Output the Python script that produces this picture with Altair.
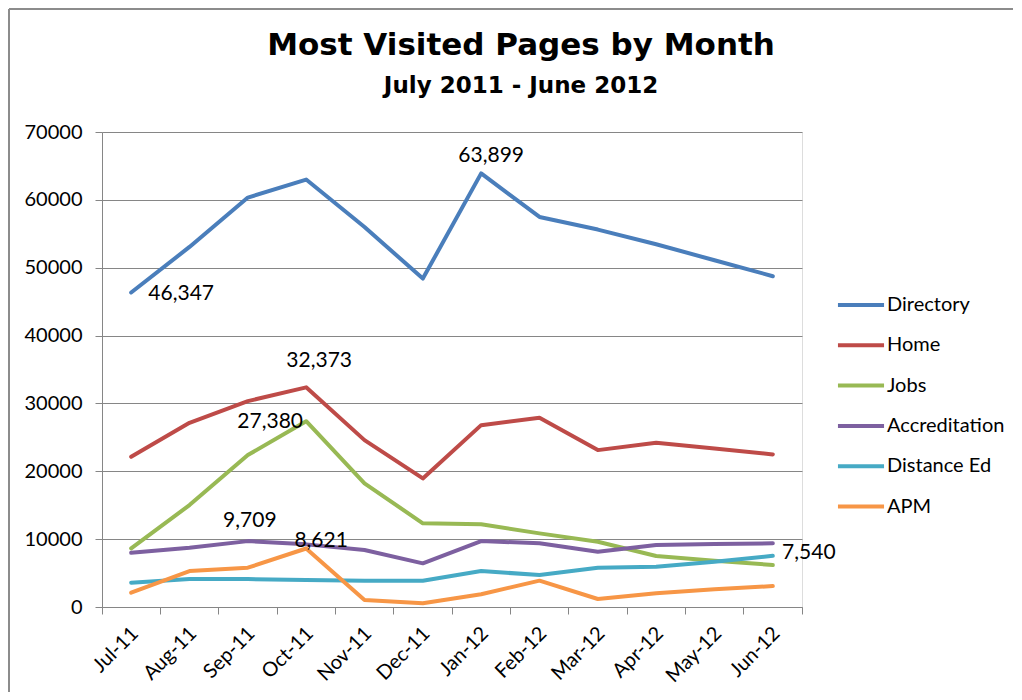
import altair as alt
import pandas as pd

months = ["Jul-11", "Aug-11", "Sep-11", "Oct-11", "Nov-11", "Dec-11",
          "Jan-12", "Feb-12", "Mar-12", "Apr-12", "May-12", "Jun-12"]
pages = ["Directory", "Home", "Jobs", "Accreditation", "Distance Ed", "APM"]
colors = ["#4A7EBB", "#BE4B48", "#98B954", "#7D60A0", "#46AAC5", "#F79646"]

directory = [46347, 53060, 60340, 62990, 56000, 48400, 63899, 57480, 55620, 53460, 51100, 48750]
home = [22130, 27140, 30340, 32373, 24590, 18950, 26800, 27880, 23120, 24200, 23370, 22490]
jobs = [8640, 15020, 22390, 27380, 18220, 12330, 12180, 10850, 9620, 7510, 6820, 6190]
accreditation = [8000, 8740, 9709, 9230, 8390, 6430, 9720, 9380, 8150, 9130, 9280, 9380]
distance_ed = [3580, 4120, 4120, 3980, 3880, 3880, 5300, 4710, 5790, 5940, 6680, 7540]
apm = [2110, 5300, 5790, 8621, 1030, 540, 1870, 3880, 1180, 2020, 2610, 3090]

series = {"Directory": directory, "Home": home, "Jobs": jobs,
          "Accreditation": accreditation, "Distance Ed": distance_ed, "APM": apm}

rows = []
for p in pages:
    for i, (m, v) in enumerate(zip(months, series[p])):
        rows.append({"page": p, "month": m, "idx": i, "value": v})
df = pd.DataFrame(rows)

W, H = 700, 475
PAD = {"left": 94, "top": 124, "right": 212, "bottom": 85}

x_enc = alt.X("month:N", sort=months,
              scale=alt.Scale(type="band", paddingInner=0, paddingOuter=0),
              bandPosition=0.5,
              axis=alt.Axis(title=None, labelAngle=315, labelAlign="right",
                            labelBaseline="middle", labelFont="Lato",
                            labelFontSize=20, labelColor="#000000",
                            bandPosition=1, tickExtra=True, labelOffset=4,
                            tickSize=7, tickColor="#868686", domainColor="#868686",
                            labelPadding=16, grid=False))
y_enc = alt.Y("value:Q", scale=alt.Scale(domain=[0, 70000], nice=False),
              axis=alt.Axis(title=None, values=[0, 10000, 20000, 30000, 40000, 50000, 60000, 70000],
                            format="d", labelFont="Lato", labelFontSize=20,
                            labelColor="#000000", tickSize=7, tickColor="#868686",
                            domainColor="#868686", gridColor="#868686",
                            labelPadding=13, grid=True))

lines = alt.Chart(df).mark_line(strokeWidth=4, strokeCap="round", strokeJoin="round").encode(
    x=x_enc,
    y=y_enc,
    color=alt.Color("page:N", sort=pages,
                    scale=alt.Scale(domain=pages, range=colors),
                    legend=alt.Legend(title=None, orient="none", legendX=739, legendY=153,
                                      symbolType="M-1.28,0H1.28", symbolSize=1296,
                                      symbolStrokeWidth=4, labelFont="Lato",
                                      labelFontSize=20, labelColor="#000000",
                                      labelOffset=6, rowPadding=10.3, padding=0)),
    order=alt.Order("idx:Q"),
)

labels_spec = [
    ("Directory", "Jul-11", 50, 1),
    ("Directory", "Jan-12", 10, -17),
    ("Home", "Oct-11", 13, -26),
    ("Jobs", "Oct-11", -36, 1),
    ("Accreditation", "Sep-11", 2, -20),
    ("APM", "Oct-11", 15, -8),
    ("Distance Ed", "Jun-12", 36, -3),
]

text_layers = []
for p, m, dx, dy in labels_spec:
    t = alt.Chart(df).transform_filter(
        (alt.datum.page == p) & (alt.datum.month == m)
    ).mark_text(dx=dx, dy=dy, font="Lato", fontSize=21, color="#000000",
                align="center", baseline="middle").encode(
        x=alt.X("month:N", sort=months, bandPosition=0.5),
        y=alt.Y("value:Q"),
        text=alt.Text("value:Q", format=","),
    )
    text_layers.append(t)

one = alt.Data(values=[{"a": 1}])
frame_left = alt.Chart(one).mark_rule(stroke="#8C8C8C", strokeWidth=2).encode(
    x=alt.value(-93), y=alt.value(-123), y2=alt.value(560))
frame_top = alt.Chart(one).mark_rule(stroke="#8C8C8C", strokeWidth=2).encode(
    x=alt.value(-93), x2=alt.value(911), y=alt.value(-123))

chart = alt.layer(frame_left, frame_top, lines, *text_layers).properties(
    width=W, height=H,
    padding=PAD,
    autosize=alt.AutoSizeParams(type="none"),
    title=alt.TitleParams(
        text="Most Visited Pages by Month",
        subtitle="July 2011 - June 2012",
        font="DejaVu Sans", fontSize=31, fontWeight="bold", color="#000000",
        subtitleFont="DejaVu Sans", subtitleFontSize=23, subtitleFontWeight="bold",
        subtitleColor="#000000", subtitlePadding=13,
        anchor="middle", frame="group", dx=69, offset=-91,
    ),
).configure_view(stroke=None).configure(background="#FFFFFF")

chart.save("out.html", embed_options={"renderer": "svg", "actions": False})
